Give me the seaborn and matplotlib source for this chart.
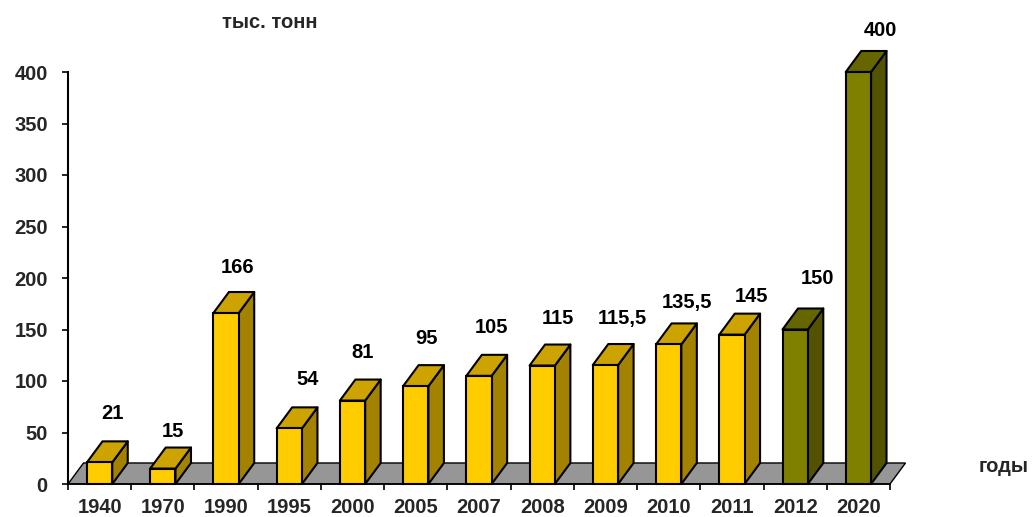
import matplotlib
matplotlib.use("Agg")
import matplotlib.pyplot as plt
from matplotlib.patches import Polygon
from matplotlib.ticker import FixedLocator
import seaborn as sns

# Production volumes, thousand tonnes
years = ["1940", "1970", "1990", "1995", "2000", "2005", "2007", "2008",
         "2009", "2010", "2011", "2012", "2020"]
values = [21, 15, 166, 54, 81, 95, 105, 115, 115.5, 135.5, 145, 150, 400]
value_labels = ["21", "15", "166", "54", "81", "95", "105", "115", "115,5",
                "135,5", "145", "150", "400"]
y_ticks = [0, 50, 100, 150, 200, 250, 300, 350, 400]

# Face colours: (front, top, side) for actual and planned years
ACTUAL = ("#FFCC00", "#CCA300", "#A38200")
PLANNED = ("#808000", "#666600", "#525200")
shades = [PLANNED if y in ("2012", "2020") else ACTUAL for y in years]

# Label nudges in pixels relative to the front-top centre of each bar
label_dx = [13, 10, 11, 18, 10, 11, 13, 16, 17, 18, 20, 22, 22]
label_dy = [49, 37, 46, 49, 48, 48, 48, 47, 47, 42, 38, 51, 41]

sns.set_style("white")
plt.rcParams["font.family"] = ["Liberation Sans", "DejaVu Sans"]
plt.rcParams["font.weight"] = "bold"

fig = plt.figure(figsize=(10.32, 5.17), dpi=100)
ax = fig.add_axes([68 / 1032, 33 / 517, 822 / 1032, 412 / 517])

# Perspective depth of the pseudo-3D extrusion (category units, value units)
DX, DY = 0.245, 20.4
EDGE = 1.5

# Grey floor
n = len(years)
floor = Polygon([(-0.5, 0), (n - 0.5, 0), (n - 0.5 + DX, DY), (-0.5 + DX, DY)],
                closed=True, facecolor="#969696", edgecolor="black",
                linewidth=1.0, zorder=1, clip_on=False)
ax.add_patch(floor)

sns.barplot(x=years, y=values, hue=years, order=years, hue_order=years,
            palette=[s[0] for s in shades], width=0.4, edgecolor="black",
            linewidth=EDGE, legend=False, ax=ax, zorder=4, saturation=1)

for bar in list(ax.patches):
    if bar is floor:
        continue
    x0 = bar.get_x()
    w = bar.get_width()
    h = bar.get_height()
    idx = int(round(x0 + w / 2))
    front, top, side = shades[idx]
    bar.set_clip_on(False)
    top_face = Polygon([(x0, h), (x0 + w, h), (x0 + w + DX, h + DY), (x0 + DX, h + DY)],
                       closed=True, facecolor=top, edgecolor="black",
                       linewidth=EDGE, zorder=3, clip_on=False, joinstyle="round")
    side_face = Polygon([(x0 + w, 0), (x0 + w + DX, DY), (x0 + w + DX, h + DY), (x0 + w, h)],
                        closed=True, facecolor=side, edgecolor="black",
                        linewidth=EDGE, zorder=3, clip_on=False, joinstyle="round")
    ax.add_patch(side_face)
    ax.add_patch(top_face)

# Value labels above the bars
for i, (v, txt) in enumerate(zip(values, value_labels)):
    ax.annotate(txt, xy=(i, v), xytext=(label_dx[i], label_dy[i]),
                textcoords="offset pixels", ha="center", va="center",
                fontsize=14.5, fontweight="bold", color="black",
                annotation_clip=False, zorder=6)

ax.set_xlim(-0.5, n - 0.5)
ax.set_ylim(0, 400)
ax.set_xlabel("")
ax.set_ylabel("")

ax.set_yticks(y_ticks)
ax.set_yticklabels([str(t) for t in y_ticks], fontsize=14.5, fontweight="bold")
ax.tick_params(axis="y", which="major", length=4, width=1.2, pad=10.5,
               left=True, color="black")

ax.xaxis.set_minor_locator(FixedLocator([i - 0.5 for i in range(n + 1)]))
ax.tick_params(axis="x", which="major", length=0, pad=10, labelsize=14.5)
ax.tick_params(axis="x", which="minor", length=4.5, width=1.2, bottom=True,
               color="black", direction="out")
for lab in ax.get_xticklabels():
    lab.set_fontweight("bold")

for side in ("top", "right"):
    ax.spines[side].set_visible(False)
ax.spines["left"].set_linewidth(1.5)
ax.spines["left"].set_color("black")
ax.spines["bottom"].set_linewidth(1.2)
ax.spines["bottom"].set_color("black")
ax.spines["bottom"].set_zorder(2)
ax.patch.set_alpha(0)

fig.text(222 / 1032, 1 - 28 / 517, "тыс. тонн", fontsize=14.5, fontweight="bold",
         ha="left", va="baseline")
fig.text(979 / 1032, 1 - 472 / 517, "годы", fontsize=14.5, fontweight="bold",
         ha="left", va="baseline")

fig.savefig("out.png", dpi=100, facecolor="white")
